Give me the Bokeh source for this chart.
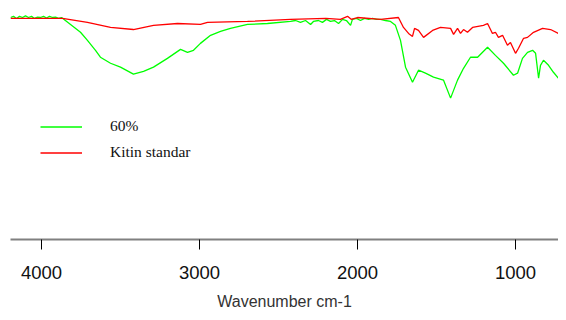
from bokeh.plotting import figure
from bokeh.models import Range1d, FixedTicker, Legend, LegendItem
from bokeh.embed import file_html
from bokeh.resources import INLINE

# ---- data (wavenumber cm-1, transmittance %) ----
green_wn = [4196, 4177, 4158, 4139, 4120, 4101, 4082, 4063, 4044, 4025, 4006, 3987, 3968, 3949, 3930, 3911, 3892, 3873,
            3816, 3753, 3709, 3658, 3627, 3563, 3500, 3418, 3354, 3291, 3203, 3120, 3076, 3038, 2994, 2930, 2867, 2804,
            2696, 2570, 2424,
            2392, 2361, 2329, 2297, 2279, 2247, 2222, 2196, 2171, 2146, 2120, 2095, 2070, 2044, 2032, 2006, 1981, 1956,
            1930, 1905, 1880, 1854, 1823, 1791,
            1760, 1728, 1696, 1652, 1614, 1570, 1519, 1456, 1411, 1367, 1329, 1285, 1240, 1177, 1127, 1076, 1013, 987,
            956, 924, 892, 873, 854, 842, 823, 791, 760, 728, 677]
green_t = [96.1, 96.6, 95.7, 96.6, 96.1, 96.8, 96.1, 96.6, 95.7, 96.3, 96.1, 96.6, 95.9, 96.6, 96.1, 96.3, 95.7, 96.1,
           93.1, 89.7, 86.2, 81.9, 78.9, 76.3, 74.6, 71.6, 72.8, 74.6, 78.4, 82.3, 81.0, 81.9, 84.9, 88.4, 90.1, 91.4,
           93.1, 93.5, 94.4,
           94.8, 94.0, 94.8, 93.1, 94.4, 94.8, 94.0, 95.3, 94.4, 94.8, 93.5, 95.3, 94.8, 92.7, 95.3, 95.7, 94.8, 95.7,
           95.3, 95.7, 95.3, 95.3, 94.8, 94.4,
           92.7, 86.2, 74.6, 68.1, 73.3, 72.0, 70.3, 69.0, 61.2, 69.0, 74.1, 78.9, 78.9, 83.2, 79.7, 76.3, 71.1, 72.0,
           78.4, 81.0, 81.9, 80.6, 69.8, 75.4, 77.6, 75.4, 72.4, 69.8, 66.8]

red_wn = [4196, 3867, 3709, 3563, 3418, 3291, 3139, 2994, 2949, 2696, 2424, 2200, 2108, 2063, 2040, 2000, 1854, 1741,
          1709, 1677, 1652, 1639, 1614, 1582, 1525, 1475, 1411, 1392, 1367, 1348, 1329, 1304, 1272, 1203, 1177, 1146,
          1127, 1108, 1082, 1051, 1032, 1000, 981, 949, 924, 886, 829, 778, 728, 677]
red_t = [95.7, 95.7, 94.0, 91.8, 90.9, 92.7, 93.5, 93.1, 94.0, 94.4, 95.3, 95.7, 95.3, 96.6, 95.3, 96.1, 95.3, 96.1,
         91.8, 89.2, 87.9, 91.4, 90.5, 87.5, 90.5, 91.8, 91.4, 88.8, 91.4, 89.2, 90.9, 89.7, 91.8, 92.7, 93.5, 89.2,
         89.7, 87.5, 88.4, 84.1, 85.3, 80.6, 82.8, 87.1, 87.5, 89.7, 91.4, 90.9, 89.2, 88.4]

x_ticks = [4000, 3000, 2000, 1000]
series_labels = ["60%", "Kitin standar"]

p = figure(width=558, height=312, output_backend="svg", toolbar_location=None,
           x_range=Range1d(4196, 728), y_range=Range1d(0, 100),
           min_border_left=10, min_border_right=0, min_border_top=8, min_border_bottom=0,
           y_axis_location=None)
p.outline_line_color = None
p.xgrid.visible = False
p.ygrid.visible = False
p.background_fill_color = "white"
p.border_fill_color = "white"

g = p.line(green_wn, green_t, line_color="#00ff00", line_width=1.3)
r = p.line(red_wn, red_t, line_color="#ff0000", line_width=1.3)

ax = p.xaxis[0]
ax.ticker = FixedTicker(ticks=x_ticks)
ax.axis_line_color = "#808080"
ax.axis_line_width = 2
ax.major_tick_line_color = "black"
ax.major_tick_line_width = 1
ax.major_tick_out = 10
ax.major_tick_in = 0
ax.minor_tick_line_color = None
ax.major_label_text_font = "Liberation Sans"
ax.major_label_text_font_size = "18.5px"
ax.major_label_text_color = "#111111"
ax.major_label_standoff = 16
ax.axis_label = "Wavenumber cm-1"
ax.axis_label_text_font = "Liberation Sans"
ax.axis_label_text_font_size = "16px"
ax.axis_label_text_font_style = "normal"
ax.axis_label_text_color = "#333333"
ax.axis_label_standoff = 11

legend = Legend(items=[LegendItem(label=series_labels[0], renderers=[g]),
                       LegendItem(label=series_labels[1], renderers=[r])],
                location=(30, 78), orientation="vertical")
legend.border_line_color = None
legend.background_fill_alpha = 0
legend.padding = 0
legend.margin = 0
legend.spacing = 8
legend.glyph_width = 42
legend.glyph_height = 17
legend.label_standoff = 28
legend.label_text_font = "Liberation Serif"
legend.label_text_font_size = "15.5px"
legend.label_text_color = "#111111"
p.add_layout(legend)

open("out.html", "w").write(file_html(p, INLINE))
